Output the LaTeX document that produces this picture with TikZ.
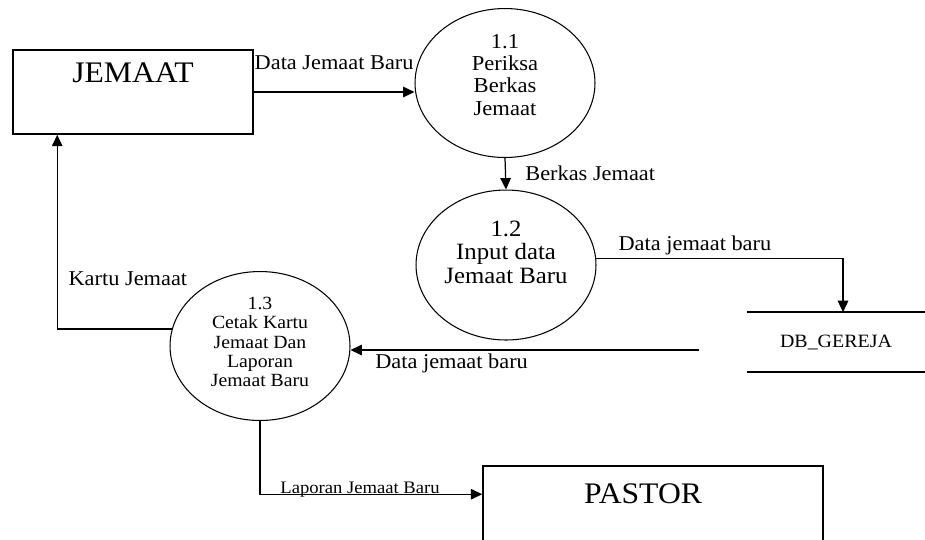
\documentclass[tikz,border=0pt]{standalone}
\usepackage{fontspec}
\setmainfont{Liberation Serif}[FakeStretch=1.06]
\usetikzlibrary{shapes.geometric, calc, positioning, arrows.meta}

\begin{document}
\begin{tikzpicture}[x=0.02cm,y=-0.02cm]
        \tikzstyle{extbox}=[draw, line width=0.9pt, rectangle, minimum width=4.8cm, minimum height=1.68cm]
        \tikzstyle{process}=[draw, line width=0.6pt, ellipse, minimum width=3.6cm, minimum height=2.98cm]
        \tikzstyle{store}=[rectangle, minimum width=3.54cm, minimum height=1.18cm, font=\fontsize{10.7}{12}\selectfont]
        \tikzstyle{flow}=[line width=0.7pt, -{Triangle[length=6.5pt, width=6pt]}]
        \tikzstyle{bigname}=[font=\fontsize{17}{19}\selectfont]
        \tikzstyle{proctext}=[align=center, font=\fontsize{12.1}{12.6}\selectfont]
        \tikzstyle{flowlabel}=[font=\fontsize{12}{13}\selectfont, inner sep=1pt]
        % picture frame, PASTOR runs off the bottom
        \useasboundingbox (0,0) rectangle (925,539);
        \clip (0,0) rectangle (925,539);
        % external entities
        \node (jemaat)[extbox] at (133,92) {};
        \node (jemaatname)[bigname] at (133,73) {JEMAAT};
        \node (pastor)[extbox, minimum width=6.8cm, minimum height=2.4cm] at (653,526) {};
        \node (pastorname)[bigname] at (643,494) {PASTOR};
        % processes
        \node (p11)[process] at (505,83) {};
        \node (p11text)[proctext] at (505,75) {1.1\\Periksa\\Berkas\\Jemaat};
        \node (p12)[process, minimum height=3cm] at (506,265) {};
        \node (p12text)[proctext, font=\fontsize{13.3}{13.3}\selectfont] at (506,252) {1.2\\Input data\\Jemaat Baru};
        \node (p13)[process, minimum height=2.98cm] at (260,346) {};
        \node (p13text)[proctext, font=\fontsize{10.6}{10.9}\selectfont] at (260,342) {1.3\\Cetak Kartu\\Jemaat Dan\\Laporan\\Jemaat Baru};
        % data store
        \node (db)[store] at (836,342) {DB\_GEREJA};
        \draw[line width=0.8pt] (db.north west) -- (db.north east);
        \draw[line width=0.8pt] (db.south west) -- (db.south east);
        % free ends
        \coordinate (dbin) at ($(db.north)+(7,0)$);
        \coordinate (dbout) at (699,350);
        \coordinate (jemaatin) at ($(jemaat.south west)+(45,0)$);
        \coordinate (pastorin) at ($(pastor.north west)+(0,29)$);
        % data flows
        \draw[flow] (jemaat.east) -- (jemaat.east -| p11.west)
            node[flowlabel, midway, above=0.4cm] {Data Jemaat Baru};
        \draw[flow] (p11.south) -- (p12.north)
            node[flowlabel, midway, right=0.35cm] {Berkas Jemaat};
        \draw[flow] (p12.4) -| (dbin)
            node[flowlabel, pos=0.2, above=0.02cm] {Data jemaat baru};
        \draw[flow] (dbout) -- (dbout -| p13.east)
            node[flowlabel, pos=0.71, below=0.02cm] {Data jemaat baru};
        \draw[flow] (p13.169) -| (jemaatin)
            node[flowlabel, pos=0.63, right=0.18cm] {Kartu Jemaat};
        \draw[flow] (p13.south) |- (pastorin)
            node[flowlabel, font=\fontsize{10}{12}\selectfont, pos=0.725, above=-0.1cm] {Laporan Jemaat Baru};
    \end{tikzpicture}
\end{document}
